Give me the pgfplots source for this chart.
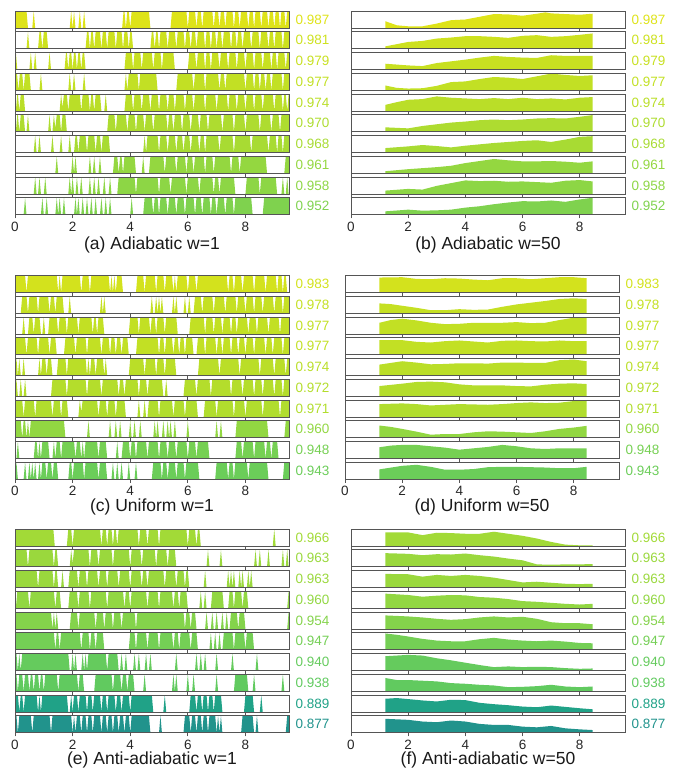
\documentclass[border=0pt]{standalone}
\usepackage{fontspec}
\setmainfont{Liberation Sans}
\usepackage{pgfplots}
\pgfplotsset{compat=1.18}
\definecolor{c987}{HTML}{DEE319}
\definecolor{c983}{HTML}{D3E21D}
\definecolor{c981}{HTML}{CDE11F}
\definecolor{c979}{HTML}{C8E021}
\definecolor{c978}{HTML}{C5E023}
\definecolor{c977}{HTML}{C2E024}
\definecolor{c974}{HTML}{BADE28}
\definecolor{c972}{HTML}{B4DD2C}
\definecolor{c971}{HTML}{B1DD2E}
\definecolor{c970}{HTML}{AEDC30}
\definecolor{c968}{HTML}{A8DB33}
\definecolor{c966}{HTML}{A2DA37}
\definecolor{c963}{HTML}{9AD83D}
\definecolor{c961}{HTML}{94D740}
\definecolor{c960}{HTML}{92D742}
\definecolor{c958}{HTML}{8DD645}
\definecolor{c954}{HTML}{84D34B}
\definecolor{c952}{HTML}{7FD24E}
\definecolor{c948}{HTML}{76D053}
\definecolor{c947}{HTML}{74CF55}
\definecolor{c943}{HTML}{6BCD59}
\definecolor{c940}{HTML}{65CB5D}
\definecolor{c938}{HTML}{61CA5F}
\definecolor{c889}{HTML}{20A287}
\definecolor{c877}{HTML}{21938C}
\definecolor{frame}{HTML}{555555}
\newcommand\lbl{\fontsize{13.5}{16}\selectfont}
\newcommand\ttl{\fontsize{17.5}{21}\selectfont}
\pgfplotsset{stripax/.style={
  width=274.5pt, height=17pt, scale only axis, anchor=north west,
  xmin=0, xmax=9.53, ymin=0, ymax=1,
  ytick=\empty, xtick={0,2,4,6,8}, xticklabels={},
  xtick pos=left, tick align=outside, major tick length=3.5pt,
  tick style={draw=frame, line width=0.8pt},
  axis line style={draw=frame, line width=0.8pt},
  clip mode=individual, axis on top,
  xticklabel style={font=\lbl, text=black!85},
}}
% #1 extra options, #2 x, #3 row top, #4 index, #5 colour, #6 label, #7 coordinates
\newcommand{\strip}[7]{%
\begin{axis}[stripax, at={(#2pt,{-(#3+20.75*#4)*1pt})}, #1]
\addplot[fill=#5, draw=none] coordinates {#7} \closedcycle;
\node[anchor=west, inner sep=0pt, text=#5, font=\lbl] at (rel axis cs:1,0.5) [xshift=6pt] {#6};
\end{axis}}
\begin{document}
\begin{tikzpicture}
\useasboundingbox (0,0) rectangle (682pt,-772pt);
% ===================== (a) Adiabatic w=1 =====================
\strip{}{15}{11}{0}{c987}{0.987}{(0,1)(0.4,1)(0.45,0)(0.6,0)(0.65,1)(0.7,0)(1.9,0)(1.95,1)(2,0)(2.05,1)(2.1,0)(2.2,0)(2.25,1)(2.3,0)(2.35,0)(2.4,1)(2.45,0)(3.72,0)(3.77,1)(3.8,1)(3.85,0)(3.9,1)(3.95,1)(4,0)(4.05,1)(4.65,1)(4.7,0)(5.4,0)(5.45,1)(5.95,1)(6,0)(6.05,1)(6.25,1)(6.3,0)(6.35,1)(6.45,1)(6.5,0)(6.55,1)(6.85,1)(6.9,0)(6.95,1)(7.05,1)(7.1,0)(7.15,1)(7.25,1)(7.3,0)(7.35,1)(7.55,1)(7.6,0)(7.65,1)(7.75,1)(7.8,0)(7.85,1)(8.05,1)(8.1,0)(8.15,1)(8.25,1)(8.3,0)(8.35,1)(8.5,1)(8.55,0)(8.6,1)(8.75,1)(8.8,0)(8.85,1)(8.95,1)(9,0)(9.05,1)(9.15,1)(9.2,0)(9.25,1)(9.35,1)(9.4,0)(9.45,1)(9.53,1)}
\strip{}{15}{11}{1}{c981}{0.981}{(0.4,0)(0.45,1)(0.5,0)(0.8,0)(0.85,1)(0.9,1)(0.95,0)(1,1)(1.1,1)(1.15,0)(2.45,0)(2.5,1)(2.55,1)(2.6,0)(2.65,1)(2.7,1)(2.75,0)(2.8,1)(2.95,1)(3,0)(3.05,1)(3.15,1)(3.2,0)(3.25,1)(3.45,1)(3.5,0)(3.55,1)(3.7,1)(3.75,0)(3.8,1)(3.9,1)(3.95,0)(4,1)(4.05,1)(4.1,0)(4.7,0)(4.75,1)(4.8,1)(4.85,0)(4.9,1)(4.95,1)(5,0)(5.05,1)(5.25,1)(5.3,0)(5.35,1)(5.55,1)(5.6,0)(5.65,1)(5.85,1)(5.9,0)(5.95,1)(6.05,1)(6.1,0)(6.15,1)(6.25,1)(6.3,0)(6.35,1)(6.55,1)(6.6,0)(6.65,1)(6.75,1)(6.8,0)(6.85,1)(6.95,1)(7,0)(7.05,1)(7.15,1)(7.2,0)(7.25,1)(7.45,1)(7.5,0)(7.55,1)(7.65,1)(7.7,0)(7.75,1)(7.85,1)(7.9,0)(7.95,1)(8.15,1)(8.2,0)(8.25,1)(8.45,1)(8.5,0)(8.55,1)(8.75,1)(8.8,0)(8.85,1)(8.95,1)(9,0)(9.05,1)(9.25,1)(9.3,0)(9.35,1)(9.53,1)}
\strip{}{15}{11}{2}{c979}{0.979}{(0,1)(0.03,1)(0.08,0)(0.5,0)(0.55,1)(0.6,0)(0.65,0)(0.7,1)(0.75,0)(1.15,0)(1.2,1)(1.25,0)(1.72,0)(1.77,1)(1.8,1)(1.85,0)(1.9,1)(1.95,1)(2,0)(2.05,1)(2.1,1)(2.15,0)(2.2,1)(2.25,1)(2.3,0)(2.35,1)(2.4,1)(2.45,0)(3.8,0)(3.85,1)(4.05,1)(4.1,0)(4.15,1)(4.35,1)(4.4,0)(4.45,1)(4.75,1)(4.8,0)(4.85,1)(5.05,1)(5.1,0)(5.15,1)(5.5,1)(5.55,0)(6,0)(6.05,1)(6.25,1)(6.3,0)(6.35,1)(6.55,1)(6.6,0)(6.65,1)(6.75,1)(6.8,0)(6.85,1)(7.05,1)(7.1,0)(7.15,1)(7.35,1)(7.4,0)(7.45,1)(7.65,1)(7.7,0)(7.75,1)(7.95,1)(8,0)(8.05,1)(8.25,1)(8.3,0)(8.35,1)(8.55,1)(8.6,0)(8.65,1)(8.85,1)(8.9,0)(8.95,1)(9.05,1)(9.1,0)(9.15,1)(9.35,1)(9.4,0)(9.45,1)(9.53,1)}
\strip{}{15}{11}{3}{c977}{0.977}{(0,1)(0.07,1)(0.12,0)(0.17,1)(0.25,1)(0.3,0)(0.35,1)(0.5,1)(0.55,0)(0.85,0)(0.9,1)(0.95,0)(1.85,0)(1.9,1)(1.95,0)(2,0)(2.05,1)(2.1,0)(2.35,0)(2.4,1)(2.45,0)(3.8,0)(3.85,1)(3.9,0)(3.95,1)(4.25,1)(4.3,0)(4.35,1)(4.9,1)(4.95,0)(5.6,0)(5.65,1)(6.15,1)(6.2,0)(6.25,1)(6.55,1)(6.6,0)(6.65,1)(7.05,1)(7.1,0)(7.15,1)(7.25,1)(7.3,0)(7.35,1)(7.95,1)(8,0)(8.05,1)(8.25,1)(8.3,0)(8.35,1)(8.45,1)(8.5,0)(8.55,1)(8.65,1)(8.7,0)(8.75,1)(8.85,1)(8.9,0)(8.95,1)(9.25,1)(9.3,0)(9.35,1)(9.53,1)}
\strip{}{15}{11}{4}{c974}{0.974}{(0.03,0)(0.08,1)(0.1,1)(0.15,0)(0.2,1)(0.3,1)(0.35,0)(1.55,0)(1.6,1)(1.65,0.2)(1.7,1)(1.8,1)(1.85,0)(1.9,1)(2.25,1)(2.3,0)(2.35,1)(2.55,1)(2.6,0)(2.65,1)(2.7,1)(2.75,0)(2.8,1)(2.95,1)(3,0)(3.1,0)(3.15,1)(3.2,0)(3.8,0)(3.85,1)(4.05,1)(4.1,0)(4.15,1)(4.35,1)(4.4,0)(4.45,1)(4.65,1)(4.7,0)(4.75,1)(4.95,1)(5,0)(5.05,1)(5.25,1)(5.3,0)(5.35,1)(5.5,1)(5.55,0)(5.6,1)(5.85,1)(5.9,0)(5.95,1)(6.15,1)(6.2,0)(6.25,1)(6.55,1)(6.6,0)(6.65,1)(6.95,1)(7,0)(7.05,1)(7.35,1)(7.4,0)(7.45,1)(7.65,1)(7.7,0)(7.75,1)(7.95,1)(8,0)(8.05,1)(8.25,1)(8.3,0)(8.35,1)(8.55,1)(8.6,0)(8.65,1)(8.95,1)(9,0)(9.05,1)(9.25,1)(9.3,0)(9.35,1)(9.4,1)(9.45,0)(9.5,1)(9.53,1)}
\strip{}{15}{11}{5}{c970}{0.970}{(0.03,0)(0.08,1)(0.1,1)(0.15,0)(0.2,1)(0.3,1)(0.35,0)(0.4,0)(0.45,1)(0.5,0)(1.15,0)(1.2,1)(1.25,0)(1.3,0)(1.35,1)(1.4,0.2)(1.45,1)(1.55,1)(1.6,0)(1.65,1)(1.75,1)(1.8,0)(3.2,0)(3.25,1)(3.45,1)(3.5,0)(3.55,1)(3.85,1)(3.9,0)(3.95,1)(4.15,1)(4.2,0)(4.25,1)(4.45,1)(4.5,0)(4.55,1)(4.75,1)(4.8,0)(4.85,1)(5.25,1)(5.3,0)(5.35,1)(5.45,1)(5.5,0)(5.55,1)(5.75,1)(5.8,0)(5.85,1)(6.05,1)(6.1,0)(6.15,1)(6.35,1)(6.4,0)(6.45,1)(6.65,1)(6.7,0)(6.75,1)(7.15,1)(7.2,0)(7.25,1)(7.55,1)(7.6,0)(7.65,1)(7.95,1)(8,0)(8.05,1)(8.45,1)(8.5,0)(8.55,1)(8.85,1)(8.9,0)(8.95,1)(9.15,1)(9.2,0)(9.25,1)(9.53,1)}
\strip{}{15}{11}{6}{c968}{0.968}{(0.65,0)(0.7,1)(0.75,0)(0.8,0)(0.85,1)(0.9,0)(1.25,0)(1.3,1)(1.35,0)(1.55,0)(1.6,1)(1.65,0)(1.85,0)(1.9,1)(1.95,0)(2.05,0)(2.1,1)(2.15,1)(2.2,0)(2.25,1)(2.45,1)(2.5,0)(2.55,1)(2.75,1)(2.8,0)(2.85,1)(2.95,1)(3,0)(3.05,1)(3.25,1)(3.3,0)(4.45,0)(4.5,1)(4.55,0)(4.6,1)(4.95,1)(5,0)(5.05,1)(5.25,1)(5.3,0)(5.35,1)(5.55,1)(5.6,0)(5.65,1)(5.8,1)(5.85,0)(5.9,1)(6.05,1)(6.1,0)(6.15,1)(6.35,1)(6.4,0)(6.45,1)(6.55,1)(6.6,0)(6.65,1)(7.05,1)(7.1,0)(7.15,1)(7.55,1)(7.6,0)(7.65,1)(8.15,1)(8.2,0)(8.25,1)(8.75,1)(8.8,0)(8.85,1)(9.05,1)(9.1,0)(9.15,1)(9.25,1)(9.3,0)(9.35,1)(9.53,1)}
\strip{}{15}{11}{7}{c961}{0.961}{(1.4,0)(1.45,1)(1.5,0)(1.95,0)(2,1)(2.05,0)(2.1,1)(2.15,0)(2.55,0)(2.6,1)(2.65,0)(2.7,0)(2.75,1)(2.8,0)(2.9,0)(2.95,1)(3,0)(3.4,0)(3.45,1)(3.55,1)(3.6,0)(3.65,1)(3.7,1)(3.75,0)(3.8,1)(4.15,1)(4.2,0)(4.4,0)(4.45,1)(4.5,0)(4.65,0)(4.7,1)(5.15,1)(5.2,0)(5.25,1)(5.55,1)(5.6,0)(5.65,1)(5.9,1)(5.95,0)(6,1)(6.15,1)(6.2,0)(6.25,1)(6.55,1)(6.6,0)(6.65,1)(6.85,1)(6.9,0)(6.95,1)(7.45,1)(7.5,0)(7.55,1)(7.75,1)(7.8,0)(7.85,1)(8.7,1)(8.75,0)(9.35,0)(9.4,1)(9.53,1)}
\strip{}{15}{11}{8}{c958}{0.958}{(0.65,0)(0.7,1)(0.75,0)(0.8,0)(0.85,1)(0.9,0)(1,0)(1.05,1)(1.1,0)(1.85,0)(1.9,1)(1.95,0)(2,1)(2.05,0)(2.1,0)(2.15,1)(2.2,0)(2.25,0)(2.3,1)(2.35,0)(2.55,0)(2.6,1)(2.65,0)(2.7,0)(2.75,1)(2.8,0)(2.85,0)(2.9,1)(2.95,0)(3.05,0)(3.1,1)(3.15,0)(3.25,0)(3.3,1)(3.35,0)(3.55,0)(3.6,1)(4.15,1)(4.2,0)(4.25,1)(4.95,1)(5,0)(5.05,1)(5.35,1)(5.4,0)(5.45,1)(5.9,1)(5.95,0)(6,1)(6.35,1)(6.4,0)(6.45,1)(6.85,1)(6.9,0)(6.95,1)(7.05,1)(7.1,0)(7.15,1)(7.6,1)(7.65,0)(8,0)(8.05,1)(8.45,1)(8.5,0)(8.55,1)(9.05,1)(9.1,0)(9.25,0)(9.3,1)(9.35,0)(9.4,0)(9.45,1)(9.5,0)}
\strip{xticklabels={0,2,4,6,8}}{15}{11}{9}{c952}{0.952}{(0.3,0)(0.35,1)(0.4,0)(0.9,0)(0.95,1)(1,0)(1.05,0)(1.1,1)(1.15,0)(1.4,0)(1.45,1)(1.5,0)(1.55,1)(1.6,0)(1.65,0)(1.7,1)(1.75,0)(2.05,0)(2.1,1)(2.15,0)(2.2,1)(2.25,0)(2.3,0)(2.35,1)(2.4,0)(2.45,0)(2.5,1)(2.55,0)(2.6,0)(2.65,1)(2.7,0)(2.75,0)(2.8,1)(2.85,0)(2.95,0)(3,1)(3.05,0)(3.1,0)(3.15,1)(3.2,0)(3.25,0)(3.3,1)(3.35,0)(4,0)(4.05,1)(4.1,0)(4.45,0)(4.5,1)(4.75,1)(4.8,0)(4.85,1)(4.95,1)(5,0)(5.05,1)(5.25,1)(5.3,0)(5.35,1)(5.55,1)(5.6,0)(5.65,1)(5.85,1)(5.9,0)(5.95,1)(6.2,1)(6.25,0)(6.3,1)(6.45,1)(6.5,0)(6.55,1)(6.75,1)(6.8,0)(6.85,1)(6.95,1)(7,0)(7.05,1)(7.25,1)(7.3,0)(7.35,1)(7.55,1)(7.6,0)(7.65,1)(8.2,1)(8.25,0)(8.6,0)(8.65,1)(9.53,1)}
% ===================== (b) Adiabatic w=50 =====================
\strip{xmax=9.6}{351}{11}{0}{c987}{0.987}{(1.2,0.4)(1.6,0.16)(2,0.1)(2.5,0.1)(3,0.26)(3.5,0.46)(4,0.5)(4.5,0.66)(5,0.82)(5.5,0.8)(6,0.72)(6.5,0.84)(6.8,0.92)(7,0.86)(7.5,0.82)(8,0.78)(8.45,0.84)}
\strip{xmax=9.6}{351}{11}{1}{c981}{0.981}{(1.2,0.14)(2,0.4)(2.5,0.46)(3,0.6)(3.5,0.66)(4,0.74)(4.5,0.74)(5,0.7)(5.5,0.64)(6,0.76)(6.5,0.8)(7,0.7)(7.5,0.74)(8,0.82)(8.45,0.9)}
\strip{xmax=9.6}{351}{11}{2}{c979}{0.979}{(1.2,0.34)(2,0.24)(2.5,0.2)(3,0.38)(3.5,0.48)(4,0.58)(4.5,0.7)(5,0.8)(5.5,0.74)(6,0.7)(6.5,0.68)(7,0.84)(7.5,0.8)(8,0.8)(8.45,0.8)}
\strip{xmax=9.6}{351}{11}{3}{c977}{0.977}{(1.2,0.28)(1.6,0.14)(2,0.1)(2.5,0.12)(3,0.26)(3.5,0.48)(4,0.52)(4.5,0.66)(5,0.78)(5.5,0.74)(6,0.66)(6.5,0.82)(7,0.98)(7.5,0.9)(8,0.84)(8.45,0.88)}
\strip{xmax=9.6}{351}{11}{4}{c974}{0.974}{(1.2,0.36)(1.6,0.52)(2,0.66)(2.5,0.7)(3,0.86)(3.5,0.78)(4,0.74)(4.5,0.7)(5,0.76)(5.5,0.7)(6,0.78)(6.5,0.7)(7,0.74)(7.5,0.68)(8,0.78)(8.45,0.82)}
\strip{xmax=9.6}{351}{11}{5}{c970}{0.970}{(1.2,0.26)(2,0.2)(2.5,0.34)(3,0.44)(3.5,0.54)(4,0.6)(4.5,0.68)(5,0.72)(5.5,0.68)(6,0.72)(6.5,0.78)(7,0.8)(7.5,0.78)(8,0.88)(8.45,0.98)}
\strip{xmax=9.6}{351}{11}{6}{c968}{0.968}{(1.2,0.26)(2,0.36)(2.5,0.44)(3,0.38)(3.5,0.3)(4,0.4)(4.5,0.48)(5,0.56)(5.5,0.62)(6,0.68)(6.5,0.72)(7,0.62)(7.5,0.76)(8,0.92)(8.45,0.96)}
\strip{xmax=9.6}{351}{11}{7}{c961}{0.961}{(1.2,0.12)(2,0.24)(2.5,0.3)(3,0.36)(3.5,0.44)(4,0.6)(4.5,0.72)(5,0.84)(5.5,0.76)(6,0.7)(6.5,0.7)(7,0.72)(7.5,0.68)(8,0.62)(8.45,0.7)}
\strip{xmax=9.6}{351}{11}{8}{c958}{0.958}{(1.2,0.2)(2,0.3)(2.5,0.26)(3,0.48)(3.5,0.64)(4,0.8)(4.5,0.76)(5,0.78)(5.5,0.72)(6,0.74)(6.5,0.7)(7,0.66)(7.5,0.78)(8,0.82)(8.45,0.74)}
\strip{xmax=9.6,xticklabels={0,2,4,6,8}}{351}{11}{9}{c952}{0.952}{(1.2,0.2)(2,0.3)(2.5,0.24)(3,0.26)(3.5,0.3)(4,0.42)(4.5,0.5)(5,0.62)(5.5,0.72)(6,0.8)(6.5,0.78)(7,0.84)(7.5,0.76)(8,0.9)(8.45,1)}
% ===================== (c) Uniform w=1 =====================
\strip{}{15}{275.5}{0}{c983}{0.983}{(0,1)(0.35,1)(0.4,0)(0.45,1)(1.45,1)(1.5,0)(1.55,1)(1.6,0)(1.65,1)(2.25,1)(2.3,0)(2.35,1)(2.55,1)(2.6,0)(2.65,1)(3.25,1)(3.3,0)(3.35,1)(3.4,0)(3.45,1)(3.5,0)(3.55,1)(3.7,1)(3.75,0)(4.2,0)(4.25,1)(4.45,1)(4.5,0)(4.55,1)(4.85,1)(4.9,0)(4.95,1)(5.15,1)(5.2,0)(5.25,1)(5.45,1)(5.5,0)(5.55,1)(5.6,0)(5.65,1)(5.95,1)(6,0)(6.05,1)(6.25,1)(6.3,0)(6.35,1)(7.35,1)(7.4,0)(7.45,1)(7.55,1)(7.6,0)(7.65,1)(7.85,1)(7.9,0)(7.95,1)(8.25,1)(8.3,0)(8.35,1)(8.65,1)(8.7,0)(8.75,1)(9.05,1)(9.1,0)(9.15,1)(9.25,1)(9.3,0)(9.35,1)(9.4,1)(9.45,0)}
\strip{}{15}{275.5}{1}{c978}{0.978}{(0.2,0)(0.25,1)(0.4,1)(0.45,0)(0.5,1)(0.75,1)(0.8,0)(0.85,1)(1.15,1)(1.2,0)(1.25,1)(1.35,1)(1.4,0)(1.45,1)(1.65,1)(1.7,0)(1.85,0)(1.9,1)(1.95,0)(2.95,0)(3,1)(3.05,0)(3.1,1)(3.15,0)(4.7,0)(4.75,1)(4.8,0)(4.85,0)(4.9,1)(4.95,0)(5,1)(5.05,0)(5.1,1)(5.15,0)(5.45,0)(5.5,1)(5.55,0)(5.6,1)(5.65,0)(5.85,0)(5.9,1)(5.95,0)(6,0)(6.05,1)(6.1,0)(6.2,0)(6.25,1)(6.45,1)(6.5,0)(6.55,1)(6.85,1)(6.9,0)(6.95,1)(7.25,1)(7.3,0)(7.35,1)(7.65,1)(7.7,0)(7.75,1)(7.95,1)(8,0)(8.05,1)(8.25,1)(8.3,0)(8.35,1)(8.55,1)(8.6,0)(8.65,1)(8.95,1)(9,0)(9.05,1)(9.25,1)(9.3,0)(9.35,1)(9.53,1)}
\strip{}{15}{275.5}{2}{c977}{0.977}{(0.25,0)(0.3,1)(0.35,0)(0.45,0)(0.5,1)(0.6,1)(0.65,0)(0.7,1)(0.85,1)(0.9,0)(0.95,0)(1,1)(1.05,0)(1.15,0)(1.2,1)(1.45,1)(1.5,0)(1.55,1)(1.75,1)(1.8,0)(1.85,1)(2.15,1)(2.2,0)(2.25,1)(2.65,1)(2.7,0)(2.75,1)(2.8,1)(2.85,0)(2.9,1)(3.05,1)(3.1,0)(3.95,0)(4,1)(4.25,1)(4.3,0)(4.35,1)(4.65,1)(4.7,0)(4.75,1)(4.85,1)(4.9,0)(4.95,1)(5.15,1)(5.2,0)(5.25,1)(5.6,1)(5.65,0)(6.05,0)(6.1,1)(6.55,1)(6.6,0)(6.65,1)(6.85,1)(6.9,0)(6.95,1)(7.15,1)(7.2,0)(7.25,1)(7.45,1)(7.5,0)(7.55,1)(7.65,1)(7.7,0)(7.75,1)(8.05,1)(8.1,0)(8.15,1)(8.35,1)(8.4,0)(8.45,1)(8.75,1)(8.8,0)(8.85,1)(9.15,1)(9.2,0)(9.25,1)(9.53,1)}
\strip{}{15}{275.5}{3}{c977}{0.977}{(0,1)(0.35,1)(0.4,0)(0.45,1)(0.75,1)(0.8,0)(0.85,1)(1.15,1)(1.2,0)(1.25,1)(1.4,1)(1.45,0)(1.7,0)(1.75,1)(2.05,1)(2.1,0)(2.15,1)(2.45,1)(2.5,0)(2.55,1)(2.95,1)(3,0)(3.05,1)(3.25,1)(3.3,0)(3.35,1)(3.45,1)(3.5,0)(3.55,1)(3.65,1)(3.7,0)(3.75,1)(3.9,1)(3.95,0)(4.2,0)(4.25,1)(4.95,1)(5,0)(5.05,1)(5.15,1)(5.2,0)(5.25,1)(5.45,1)(5.5,0)(5.55,1)(5.65,1)(5.7,0)(5.75,1)(5.85,1)(5.9,0)(5.95,1)(6.15,1)(6.2,0)(6.3,0)(6.35,1)(6.55,1)(6.6,0)(6.65,1)(6.95,1)(7,0)(7.05,1)(7.15,1)(7.2,0)(7.25,1)(7.45,1)(7.5,0)(7.55,1)(7.7,1)(7.75,0)(7.8,1)(7.95,1)(8,0)(8.05,1)(8.25,1)(8.3,0)(8.35,1)(8.65,1)(8.7,0)(8.75,1)(8.9,1)(8.95,0)(9,1)(9.25,1)(9.3,0)(9.35,1)(9.53,1)}
\strip{}{15}{275.5}{4}{c974}{0.974}{(0,0)(0.05,1)(0.1,0)(0.15,1)(0.2,0)(0.25,0)(0.3,1)(0.35,0)(0.8,0)(0.85,1)(0.9,0)(0.95,1)(1.05,1)(1.1,0)(1.15,1)(1.25,1)(1.3,0)(1.45,0)(1.5,1)(1.75,1)(1.8,0)(1.85,1)(2.45,1)(2.5,0)(2.55,1)(2.6,0)(2.65,1)(2.75,1)(2.8,0)(2.85,1)(3.05,1)(3.1,0)(3.15,1)(3.2,0)(3.95,0)(4,1)(4.45,1)(4.5,0)(4.55,1)(4.85,1)(4.9,0)(4.95,1)(5.15,1)(5.2,0)(5.25,1)(5.55,1)(5.6,0)(6.35,0)(6.4,1)(7.05,1)(7.1,0)(7.15,1)(7.75,1)(7.8,0)(7.85,1)(8.45,1)(8.5,0)(8.55,1)(8.95,1)(9,0)(9.05,1)(9.35,1)(9.4,0)(9.45,1)(9.53,1)}
\strip{}{15}{275.5}{5}{c972}{0.972}{(0,0)(0.05,1)(0.1,0)(0.15,0)(0.2,1)(0.25,0)(0.3,0)(0.35,1)(0.4,0)(1.25,0)(1.3,1)(1.75,1)(1.8,0)(1.85,1)(2.45,1)(2.5,0)(2.55,1)(2.95,1)(3,0)(3.05,1)(3.55,1)(3.6,0)(3.65,1)(3.75,1)(3.8,0)(3.85,1)(4.25,1)(4.3,0)(4.35,1)(4.55,1)(4.6,0)(4.65,1)(5.1,1)(5.15,0)(5.2,0)(5.25,1)(5.3,0)(5.85,0)(5.9,1)(6.25,1)(6.3,0)(6.35,1)(6.75,1)(6.8,0)(6.85,1)(7.45,1)(7.5,0)(7.55,1)(7.85,1)(7.9,0)(7.95,1)(8.25,1)(8.3,0)(8.35,1)(8.55,1)(8.6,0)(8.65,1)(8.95,1)(9,0)(9.05,1)(9.25,1)(9.3,0)(9.35,1)(9.53,1)}
\strip{}{15}{275.5}{6}{c971}{0.971}{(0,1)(0.25,1)(0.3,0)(0.35,1)(0.65,1)(0.7,0)(0.75,1)(1.25,1)(1.3,0)(1.35,1)(1.55,1)(1.6,0)(1.65,1)(1.8,1)(1.85,0)(2.2,0)(2.25,1)(2.3,0.3)(2.35,1)(2.85,1)(2.9,0)(2.95,1)(3.15,1)(3.2,0)(3.25,1)(3.45,1)(3.5,0)(3.55,1)(3.8,1)(3.85,0)(4.25,0)(4.3,1)(4.35,0)(4.45,0)(4.5,1)(4.55,0)(4.6,0)(4.65,1)(4.95,1)(5,0)(5.05,1)(5.45,1)(5.5,0)(5.55,1)(5.85,1)(5.9,0)(5.95,1)(6.3,1)(6.35,0)(6.55,0)(6.6,1)(6.95,1)(7,0)(7.05,1)(7.55,1)(7.6,0)(7.65,1)(7.95,1)(8,0)(8.05,1)(8.55,1)(8.6,0)(8.65,1)(9.15,1)(9.2,0)(9.25,1)(9.53,1)}
\strip{}{15}{275.5}{7}{c960}{0.960}{(0,1)(0.2,1)(0.25,0)(0.3,1)(0.35,1)(0.4,0)(0.45,1)(0.5,0)(0.55,1)(1.7,1)(1.75,0)(2.5,0)(2.55,1)(2.6,0)(3.25,0)(3.3,1)(3.35,0)(3.45,0)(3.5,1)(3.55,0)(3.6,0)(3.65,1)(3.7,0)(3.95,0)(4,1)(4.05,0)(4.1,0)(4.15,1)(4.2,0)(4.3,0)(4.35,1)(4.4,0)(4.8,0)(4.85,1)(4.9,0)(4.95,1)(5,0)(5.1,0)(5.15,1)(5.2,0)(5.25,0)(5.3,1)(5.35,0)(5.4,1)(5.45,0)(5.5,0)(5.55,1)(5.6,0)(5.95,0)(6,1)(6.05,0)(6.95,0)(7,1)(7.05,0)(7.1,0)(7.15,1)(7.2,0)(7.65,0)(7.7,1)(8.75,1)(8.8,0)(9.35,0)(9.4,1)(9.53,1)}
\strip{}{15}{275.5}{8}{c948}{0.948}{(0.05,0)(0.1,1)(0.15,0)(0.65,0)(0.7,1)(0.75,1)(0.8,0)(0.85,1)(0.9,0)(0.95,1)(1.15,1)(1.2,0)(1.3,0)(1.35,1)(1.4,0)(1.45,1)(1.55,1)(1.6,0)(1.65,1)(2.05,1)(2.1,0)(2.15,1)(2.25,1)(2.3,0)(2.35,1)(2.4,0)(2.45,1)(2.85,1)(2.9,0)(2.95,1)(3.15,1)(3.2,0)(3.5,0)(3.55,1)(3.6,0)(3.7,0)(3.75,1)(3.95,1)(4,0)(4.05,1)(4.15,1)(4.2,0)(4.25,1)(4.55,1)(4.6,0)(4.65,1)(4.95,1)(5,0)(5.05,1)(5.25,1)(5.3,0)(5.35,1)(5.55,1)(5.6,0)(5.65,1)(5.95,1)(6,0)(6.05,1)(6.25,1)(6.3,0)(6.35,1)(6.7,1)(6.75,0)(7.65,0)(7.7,1)(7.85,1)(7.9,0)(7.95,1)(8.25,1)(8.3,0)(8.35,1)(8.65,1)(8.7,0)(8.75,1)(8.85,1)(8.9,0)(8.95,1)(9.1,1)(9.15,0)}
\strip{xticklabels={0,2,4,6,8}}{15}{275.5}{9}{c943}{0.943}{(0,0)(0.05,1)(0.1,0)(0.3,0)(0.35,1)(0.4,0)(0.45,0)(0.5,1)(0.55,0)(0.6,1)(0.65,0)(0.7,1)(0.75,0)(0.8,0)(0.85,1)(0.9,0)(0.95,1)(1.05,1)(1.1,0)(1.15,1)(1.25,1)(1.3,0)(1.35,1)(1.45,1)(1.5,0)(1.85,0)(1.9,1)(1.95,1)(2,0)(2.05,1)(2.35,1)(2.4,0)(2.45,1)(2.85,1)(2.9,0)(2.95,1)(3.15,1)(3.2,0)(3.35,0)(3.4,1)(3.45,0)(3.5,0)(3.55,1)(3.6,0)(3.65,0)(3.7,1)(3.75,0)(3.9,0)(3.95,1)(4,0)(4.15,0)(4.2,1)(4.25,0)(4.75,0)(4.8,1)(5.05,1)(5.1,0)(5.15,1)(5.25,1)(5.3,0)(5.35,1)(5.55,1)(5.6,0)(5.65,1)(5.85,1)(5.9,0)(5.95,1)(6.35,1)(6.4,0)(6.95,0)(7,1)(7.35,1)(7.4,0)(7.45,1)(7.55,1)(7.6,0)(7.65,1)(8.05,1)(8.1,0)(8.15,1)(8.75,1)(8.8,0)(9.3,0)(9.35,1)(9.53,1)}
% ===================== (d) Uniform w=50 =====================
\strip{xmax=9.6}{345}{275.5}{0}{c983}{0.983}{(1.2,0.88)(2,0.9)(2.5,0.8)(3,0.78)(3.5,0.84)(4,0.82)(4.5,0.76)(5,0.72)(5.5,0.84)(6,0.84)(6.5,0.78)(7,0.84)(7.5,0.9)(8,0.9)(8.45,0.84)}
\strip{xmax=9.6}{345}{275.5}{1}{c978}{0.978}{(1.2,0.58)(1.6,0.54)(2,0.44)(2.5,0.32)(3,0.18)(3.5,0.18)(4,0.24)(4.5,0.2)(5,0.22)(5.5,0.38)(6,0.52)(6.5,0.62)(7,0.72)(7.5,0.84)(8,0.88)(8.45,0.84)}
\strip{xmax=9.6}{345}{275.5}{2}{c977}{0.977}{(1.2,0.66)(1.6,0.82)(2,0.9)(2.5,0.8)(3,0.66)(3.5,0.58)(4,0.6)(4.5,0.66)(5,0.66)(5.5,0.66)(6,0.7)(6.5,0.64)(7,0.66)(7.5,0.82)(8,0.96)(8.45,0.96)}
\strip{xmax=9.6}{345}{275.5}{3}{c977}{0.977}{(1.2,0.86)(2,0.86)(2.5,0.76)(3,0.72)(3.5,0.8)(4,0.84)(4.5,0.78)(5,0.72)(5.5,0.82)(6,0.84)(6.5,0.8)(7,0.78)(7.5,0.84)(8,0.8)(8.45,0.8)}
\strip{xmax=9.6}{345}{275.5}{4}{c974}{0.974}{(1.2,0.64)(2,0.84)(2.5,0.76)(3,0.66)(3.5,0.68)(4,0.72)(4.5,0.72)(5,0.7)(5.5,0.76)(6,0.76)(6.5,0.74)(7,0.74)(7.5,0.9)(8,0.94)(8.45,0.84)}
\strip{xmax=9.6}{345}{275.5}{5}{c972}{0.972}{(1.2,0.6)(2,0.74)(2.5,0.84)(3,0.86)(3.5,0.82)(4,0.7)(4.5,0.64)(5,0.64)(5.5,0.64)(6,0.6)(6.5,0.58)(7,0.68)(7.5,0.74)(8,0.76)(8.45,0.72)}
\strip{xmax=9.6}{345}{275.5}{6}{c971}{0.971}{(1.2,0.76)(2,0.8)(2.5,0.76)(3,0.68)(3.5,0.72)(4,0.76)(4.5,0.74)(5,0.72)(5.5,0.76)(6,0.82)(6.5,0.86)(7,0.82)(7.5,0.84)(8,0.94)(8.45,0.94)}
\strip{xmax=9.6}{345}{275.5}{7}{c960}{0.960}{(1.2,0.72)(1.6,0.64)(2,0.52)(2.5,0.36)(3,0.18)(3.5,0.22)(4,0.22)(4.5,0.32)(5,0.38)(5.5,0.36)(6,0.32)(6.5,0.28)(7,0.38)(7.5,0.52)(8,0.6)(8.45,0.7)}
\strip{xmax=9.6}{345}{275.5}{8}{c948}{0.948}{(1.2,0.66)(1.6,0.76)(2,0.8)(2.5,0.8)(3,0.72)(3.5,0.64)(4,0.52)(4.5,0.6)(5,0.68)(5.5,0.8)(6,0.72)(6.5,0.6)(7,0.56)(7.5,0.6)(8,0.6)(8.45,0.6)}
\strip{xmax=9.6,xticklabels={0,2,4,6,8}}{345}{275.5}{9}{c943}{0.943}{(1.2,0.58)(2,0.79)(2.5,0.85)(3,0.73)(3.5,0.56)(4,0.56)(4.5,0.6)(5,0.71)(5.5,0.73)(6,0.73)(6.5,0.71)(7,0.69)(7.5,0.65)(8,0.65)(8.45,0.73)}
% ===================== (e) Anti-adiabatic w=1 =====================
\strip{}{15}{529}{0}{c966}{0.966}{(0,1)(1.33,1)(1.38,0)(1.8,0)(1.85,1)(1.95,1)(2,0)(2.05,1)(2.95,1)(3,0)(3.05,1)(3.15,1)(3.2,0)(3.25,1)(3.35,1)(3.4,0)(3.45,1)(3.5,1)(3.55,0)(3.6,1)(4.25,1)(4.3,0)(4.35,1)(4.55,1)(4.6,0)(4.65,1)(4.95,1)(5,0)(5.05,1)(5.95,1)(6,0)(6.05,1)(6.25,1)(6.3,0)(6.35,1)(6.4,1)(6.45,0)(8.95,0)(9,1)(9.05,0)}
\strip{}{15}{529}{1}{c963}{0.963}{(0,1)(0.4,1)(0.45,0)(0.5,1)(1.3,1)(1.35,0)(1.4,1)(1.45,1)(1.5,0)(1.9,0)(1.95,1)(2,0.2)(2.05,1)(2.55,1)(2.6,0)(2.65,1)(2.85,1)(2.9,0)(2.95,1)(3.35,1)(3.4,0)(3.45,1)(3.95,1)(4,0)(4.05,1)(4.35,1)(4.4,0)(4.45,1)(4.85,1)(4.9,0)(4.95,1)(5.25,1)(5.3,0)(5.35,1)(5.55,1)(5.6,0)(6.65,0)(6.7,1)(6.75,0)(7.1,0)(7.15,1)(7.2,0)(8.3,0)(8.35,1)(8.4,0)(8.45,0)(8.5,1)(8.55,0)(8.75,0)(8.8,1)(8.85,0)(9.25,0)(9.3,1)(9.35,0)(9.4,0)(9.45,1)(9.5,0)}
\strip{}{15}{529}{2}{c963}{0.963}{(0,1)(0.75,1)(0.8,0)(0.85,1)(1.3,1)(1.35,0)(1.4,1)(1.45,1)(1.5,0)(1.6,0)(1.65,1)(1.7,0)(1.85,0)(1.9,1)(2.15,1)(2.2,0)(2.25,1)(2.45,1)(2.5,0)(2.55,1)(2.85,1)(2.9,0)(2.95,1)(3.15,1)(3.2,0)(3.25,1)(3.55,1)(3.6,0)(3.65,1)(3.95,1)(4,0)(4.05,1)(4.35,1)(4.4,0)(4.45,1)(4.55,1)(4.6,0)(4.65,1)(5.15,1)(5.2,0)(5.25,1)(5.55,1)(5.6,0)(5.65,1)(5.85,1)(5.9,0)(5.95,1)(6,1)(6.05,0)(6.55,0)(6.6,1)(6.65,0)(7.35,0)(7.4,1)(7.45,0)(7.5,1)(7.55,0)(7.6,1)(7.65,0)(7.75,0)(7.8,1)(7.85,0)(7.9,1)(7.95,0)(8.05,0)(8.1,1)(8.15,0)(8.2,1)(8.25,0)}
\strip{}{15}{529}{3}{c960}{0.960}{(0.03,0)(0.08,1)(0.45,1)(0.5,0)(0.55,1)(1.35,1)(1.4,0)(1.45,1)(1.55,1)(1.6,0)(1.85,0)(1.9,1)(2.15,1)(2.2,0)(2.25,1)(2.55,1)(2.6,0)(2.65,1)(3.15,1)(3.2,0)(3.25,1)(3.75,1)(3.8,0)(3.85,1)(3.95,1)(4,0)(4.05,1)(4.55,1)(4.6,0)(4.65,1)(4.95,1)(5,0)(5.05,1)(5.45,1)(5.5,0)(5.55,1)(5.65,1)(5.7,0)(5.75,1)(5.95,1)(6,0)(6.4,0)(6.45,1)(6.5,0)(6.55,0)(6.6,1)(6.65,0)(6.8,0)(6.85,1)(7.2,1)(7.25,0)(7.4,0)(7.45,1)(7.55,1)(7.6,0)(7.65,1)(7.85,1)(7.9,0)(7.95,1)(8.05,1)(8.1,0)(9.45,0)(9.5,1)(9.53,1)}
\strip{}{15}{529}{4}{c954}{0.954}{(0,1)(1.25,1)(1.3,0)(1.35,1)(1.4,0)(1.45,1)(1.5,0)(1.9,0)(1.95,1)(2.15,1)(2.2,0)(2.25,1)(2.75,1)(2.8,0)(2.85,1)(3.05,1)(3.1,0)(3.15,1)(3.35,1)(3.4,0)(3.45,1)(3.65,1)(3.7,0)(3.75,1)(4.15,1)(4.2,0)(4.25,1)(5.85,1)(5.9,0)(5.95,1)(6.05,1)(6.1,0)(6.15,1)(6.25,1)(6.3,0)(6.6,0)(6.65,1)(6.7,0)(6.8,0)(6.85,1)(6.9,0)(6.95,0)(7,1)(7.05,0)(7.15,0)(7.2,1)(7.25,0)(7.3,0)(7.35,1)(7.4,0)(7.45,0)(7.5,1)(7.7,1)(7.75,0)(7.8,1)(7.95,1)(8,0)(9.45,0)(9.5,1)(9.53,1)}
\strip{}{15}{529}{5}{c947}{0.947}{(0,1)(1.35,1)(1.4,0)(1.45,1)(1.5,1)(1.55,0)(1.6,1)(2.25,1)(2.3,0)(2.35,1)(2.55,1)(2.6,0)(2.65,1)(2.75,1)(2.8,0)(2.85,1)(3.05,1)(3.1,0)(3.95,0)(4,1)(4.15,1)(4.2,0)(4.25,1)(4.55,1)(4.6,0)(4.65,1)(4.95,1)(5,0)(5.05,1)(5.45,1)(5.5,0)(5.55,1)(5.65,1)(5.7,0)(5.75,1)(6.05,1)(6.1,0)(6.15,1)(6.3,1)(6.35,0)(6.75,0)(6.8,1)(6.85,0)(6.9,0)(6.95,1)(7,0)(7.05,0)(7.1,1)(7.15,0)(7.2,0)(7.25,1)(7.55,1)(7.6,0)(7.65,1)(7.95,1)(8,0)(8.05,1)(8.25,1)(8.3,0)}
\strip{}{15}{529}{6}{c940}{0.940}{(0,1)(0.05,1)(0.1,0)(0.15,1)(0.2,0)(0.25,1)(1.85,1)(1.9,0)(1.95,0)(2,1)(2.05,0)(2.1,1)(2.15,0)(2.3,0)(2.35,1)(2.4,0)(2.45,1)(2.5,0)(2.55,1)(3.15,1)(3.2,0)(3.25,1)(3.55,1)(3.6,0)(3.65,0)(3.7,1)(3.75,0)(3.8,0)(3.85,1)(3.9,0)(4.1,0)(4.15,1)(4.2,0)(4.25,0)(4.3,1)(4.35,0)(4.5,0)(4.55,1)(4.6,0)(4.65,0)(4.7,1)(4.75,0)(5.55,0)(5.6,1)(5.65,0)(6.25,0)(6.3,1)(6.35,0)(6.4,0)(6.45,1)(6.5,0)(6.55,0)(6.6,1)(6.65,0)(6.95,0)(7,1)(7.05,0)(7.5,0)(7.55,1)(7.6,0)(8.35,0)(8.4,1)(8.45,0)}
\strip{}{15}{529}{7}{c938}{0.938}{(0,1)(0.05,1)(0.1,0)(0.15,1)(0.25,1)(0.3,0)(0.35,1)(0.45,1)(0.5,0)(0.55,1)(0.6,1)(0.65,0)(0.7,1)(0.8,1)(0.85,0)(0.9,1)(0.95,1)(1,0)(1.05,1)(1.45,1)(1.5,0)(1.55,1)(2.15,1)(2.2,0)(2.25,1)(2.35,1)(2.4,0)(2.75,0)(2.8,1)(3.35,1)(3.4,0)(3.45,1)(3.65,1)(3.7,0)(3.75,1)(3.85,1)(3.9,0)(3.95,1)(4.1,1)(4.15,0)(4.45,0)(4.5,1)(4.55,0)(5.45,0)(5.5,1)(5.55,0)(5.6,1)(5.65,0)(5.95,0)(6,1)(6.05,0)(6.15,0)(6.2,1)(6.25,0)(6.95,0)(7,1)(7.05,0)(7.6,0)(7.65,1)(8.05,1)(8.1,0)(8.25,0)(8.3,1)(8.35,0)(9.25,0)(9.3,1)(9.35,0)}
\strip{}{15}{529}{8}{c889}{0.889}{(0,1)(0.1,1)(0.15,0)(0.2,1)(0.25,1)(0.3,0)(0.35,1)(0.75,1)(0.8,0)(0.85,1)(0.9,0)(0.95,1)(1.8,1)(1.85,0)(1.9,0)(1.95,1)(2,0)(2.05,1)(2.15,1)(2.2,0)(2.25,1)(2.45,1)(2.5,0)(2.55,1)(2.65,1)(2.7,0)(2.75,1)(2.95,1)(3,0)(3.05,1)(3.15,1)(3.2,0)(3.25,1)(3.45,1)(3.5,0)(3.55,1)(3.65,1)(3.7,0)(3.75,1)(3.95,1)(4,0)(4.05,1)(4.75,1)(4.8,0)(5.15,0)(5.2,1)(5.25,0)(6.05,0)(6.1,1)(6.25,1)(6.3,0)(6.35,1)(6.45,1)(6.5,0)(6.55,1)(6.65,1)(6.7,0)(6.75,1)(6.85,1)(6.9,0)(6.95,1)(7.15,1)(7.2,0)(7.95,0)(8,1)(8.25,1)(8.3,0)(8.5,0)(8.55,1)(8.6,0)}
\strip{xticklabels={0,2,4,6,8}}{15}{529}{9}{c877}{0.877}{(0,1)(0.05,1)(0.1,0)(0.15,1)(0.55,1)(0.6,0)(0.65,1)(1.2,1)(1.25,0)(1.3,1)(1.95,1)(2,0)(2.05,1)(2.1,0)(2.15,1)(2.25,1)(2.3,0)(2.35,1)(2.45,1)(2.5,0)(2.55,1)(2.65,1)(2.7,0)(2.75,1)(2.95,1)(3,0)(3.05,1)(3.15,1)(3.2,0)(3.25,1)(3.35,1)(3.4,0)(3.45,1)(3.55,1)(3.6,0)(3.65,1)(3.75,1)(3.8,0)(3.85,1)(3.95,1)(4,0)(4.05,1)(4.65,1)(4.7,0)(5,0)(5.05,1)(5.1,0)(5.85,0)(5.9,1)(6.05,1)(6.1,0)(6.15,1)(6.25,1)(6.3,0)(6.35,1)(6.45,1)(6.5,0)(6.55,1)(6.65,1)(6.7,0)(6.75,1)(6.95,1)(7,0)(7.05,1)(7.1,0)(7.15,1)(7.2,0)(7.85,0)(7.9,1)(8.25,1)(8.3,0)(8.35,0)(8.4,1)(8.45,0)(9.4,0)(9.45,1)(9.53,1)}
% ===================== (f) Anti-adiabatic w=50 =====================
\strip{xmax=9.6}{351}{529}{0}{c966}{0.966}{(1.2,0.8)(2,0.8)(2.5,0.64)(3,0.78)(3.5,0.76)(4,0.72)(4.5,0.72)(5,0.84)(5.5,0.72)(6,0.6)(6.5,0.44)(7,0.24)(7.5,0.08)(8,0.04)(8.45,0.04)}
\strip{xmax=9.6}{351}{529}{1}{c963}{0.963}{(1.2,0.8)(2,0.76)(2.5,0.68)(3,0.74)(3.5,0.72)(4,0.78)(4.5,0.68)(5,0.6)(5.5,0.48)(6,0.38)(6.5,0.14)(7,0.12)(7.5,0.14)(8,0.14)(8.45,0.16)}
\strip{xmax=9.6}{351}{529}{2}{c963}{0.963}{(1.2,0.8)(2,0.78)(2.5,0.64)(3,0.74)(3.5,0.68)(4,0.74)(4.5,0.68)(5,0.58)(5.5,0.44)(6,0.3)(6.5,0.34)(7,0.28)(7.5,0.22)(8,0.2)(8.45,0.22)}
\strip{xmax=9.6}{351}{529}{3}{c960}{0.960}{(1.2,0.86)(2,0.78)(2.5,0.68)(3,0.74)(3.5,0.78)(4,0.76)(4.5,0.66)(5,0.62)(5.5,0.54)(6,0.42)(6.5,0.38)(7,0.32)(7.5,0.26)(8,0.22)(8.45,0.26)}
\strip{xmax=9.6}{351}{529}{4}{c954}{0.954}{(1.2,0.8)(2,0.74)(2.5,0.68)(3,0.6)(3.5,0.54)(4,0.58)(4.5,0.68)(5,0.74)(5.5,0.68)(6,0.72)(6.5,0.6)(7,0.4)(7.5,0.34)(8,0.34)(8.45,0.28)}
\strip{xmax=9.6}{351}{529}{5}{c947}{0.947}{(1.2,0.96)(1.6,0.88)(2,0.78)(2.5,0.64)(3,0.54)(3.5,0.5)(4,0.5)(4.5,0.62)(5,0.7)(5.5,0.6)(6,0.54)(6.5,0.5)(7,0.54)(7.5,0.48)(8,0.4)(8.45,0.38)}
\strip{xmax=9.6}{351}{529}{6}{c940}{0.940}{(1.2,0.84)(2,0.92)(2.5,0.88)(3,0.72)(3.5,0.6)(4,0.46)(4.5,0.32)(5,0.2)(5.5,0.24)(6,0.2)(6.5,0.22)(7,0.2)(7.5,0.14)(8,0.1)(8.45,0.12)}
\strip{xmax=9.6}{351}{529}{7}{c938}{0.938}{(1.2,0.78)(1.6,0.66)(2,0.66)(2.5,0.62)(3,0.58)(3.5,0.48)(4,0.44)(4.5,0.38)(5,0.34)(5.5,0.24)(6,0.26)(6.5,0.3)(7,0.38)(7.5,0.28)(8,0.24)(8.45,0.28)}
\strip{xmax=9.6}{351}{529}{8}{c889}{0.889}{(1.2,0.78)(1.6,0.82)(2,0.76)(2.5,0.68)(3,0.62)(3.5,0.72)(4,0.7)(4.5,0.54)(5,0.46)(5.5,0.4)(6,0.32)(6.5,0.28)(7,0.38)(7.5,0.3)(8,0.22)(8.45,0.16)}
\strip{xmax=9.6,xticklabels={0,2,4,6,8}}{351}{529}{9}{c877}{0.877}{(1.2,0.82)(2,0.76)(2.5,0.66)(3,0.62)(3.5,0.72)(4,0.66)(4.5,0.52)(5,0.46)(5.5,0.46)(6,0.36)(6.5,0.32)(7,0.4)(7.5,0.26)(8,0.2)(8.45,0.16)}
% ===================== titles =====================
\node[font=\ttl, text=black!90] at (152pt,-245pt) {(a) Adiabatic w=1};
\node[font=\ttl, text=black!90] at (488pt,-245pt) {(b) Adiabatic w=50};
\node[font=\ttl, text=black!90] at (152pt,-506.5pt) {(c) Uniform w=1};
\node[font=\ttl, text=black!90] at (482pt,-506.5pt) {(d) Uniform w=50};
\node[font=\ttl, text=black!90] at (152pt,-760pt) {(e) Anti-adiabatic w=1};
\node[font=\ttl, text=black!90] at (488pt,-760pt) {(f) Anti-adiabatic w=50};
\end{tikzpicture}
\end{document}
